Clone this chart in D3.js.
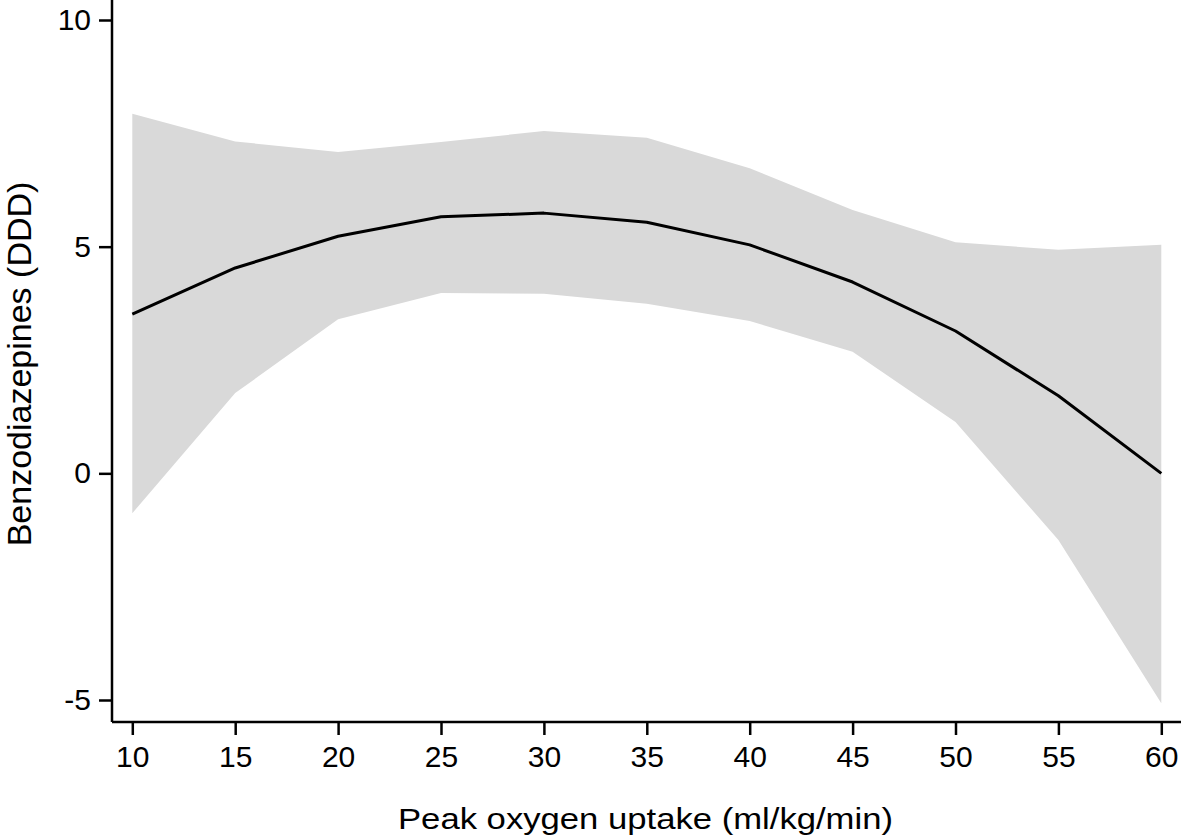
<!DOCTYPE html>
<html><head><meta charset="utf-8">
<script src="https://cdn.jsdelivr.net/npm/d3@7"></script>
<style>body{margin:0;background:#fff}svg{display:block}</style>
</head><body>
<script>
const xs = [10,15,20,25,30,35,40,45,50,55,60];
const fitted = [3.51,4.53,5.23,5.66,5.74,5.54,5.04,4.22,3.14,1.71,0.0];
const upper = [7.93,7.32,7.09,7.31,7.55,7.40,6.73,5.81,5.10,4.93,5.04];
const lower = [-0.88,1.77,3.40,3.98,3.96,3.74,3.36,2.68,1.13,-1.47,-5.07];
const xTicks = [10,15,20,25,30,35,40,45,50,55,60];
const yTicks = [-5,0,5,10];

const W=1181,H=839;
const svg=d3.select("body").append("svg").attr("width",W).attr("height",H);
const x=d3.scaleLinear().domain([10,60]).range([132.3,1161.3]);
const y=d3.scaleLinear().domain([-5,10]).range([700,20]);
const axisLeftX=112, axisBottomY=722;
const data=xs.map((v,i)=>({x:v,m:fitted[i],u:upper[i],l:lower[i]}));

svg.append("path").datum(data)
  .attr("d",d3.area().x(d=>x(d.x)).y0(d=>y(d.l)).y1(d=>y(d.u)))
  .attr("fill","#d9d9d9");
svg.append("path").datum(data)
  .attr("d",d3.line().x(d=>x(d.x)).y(d=>y(d.m)))
  .attr("fill","none").attr("stroke","#000").attr("stroke-width",3).attr("stroke-linejoin","round");

const font="'Liberation Sans', Arial, sans-serif";
// y axis
const ya=svg.append("g").attr("transform",`translate(${axisLeftX},0)`)
  .call(d3.axisLeft(y).tickValues(yTicks).tickSize(13).tickPadding(8).tickFormat(d=>String(d)));
ya.select(".domain").attr("d",`M0,0V${axisBottomY}`).attr("stroke-width",2.5);
// x axis
const xa=svg.append("g").attr("transform",`translate(0,${axisBottomY})`)
  .call(d3.axisBottom(x).tickValues(xTicks).tickSize(13).tickPadding(11));
xa.select(".domain").attr("d",`M${axisLeftX},0H${W}`).attr("stroke-width",2.5);
svg.selectAll(".tick line").attr("stroke-width",2.5);
svg.selectAll(".tick text").attr("font-family",font).attr("font-size",30).attr("fill","#000");

svg.append("text").attr("x",645.5).attr("y",829).attr("text-anchor","middle")
  .attr("font-family",font).attr("font-size",29.5)
  .attr("textLength",495).attr("lengthAdjust","spacingAndGlyphs")
  .text("Peak oxygen uptake (ml/kg/min)");
svg.append("text").attr("transform","translate(31,364) rotate(-90)").attr("text-anchor","middle")
  .attr("font-family",font).attr("font-size",34).text("Benzodiazepines (DDD)");
</script>
</body></html>
